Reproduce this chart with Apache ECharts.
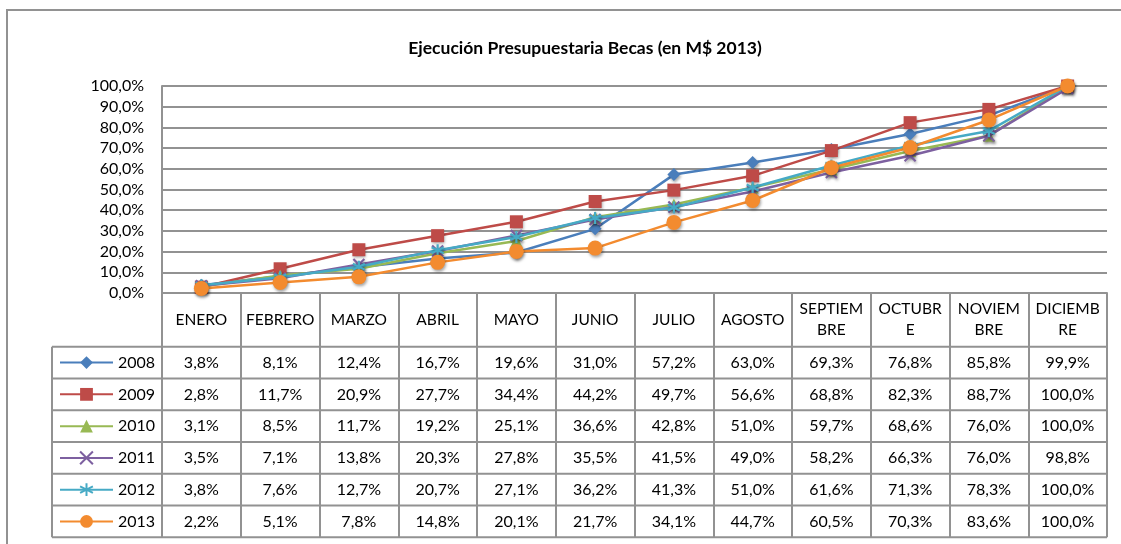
<!DOCTYPE html>
<html>
<head>
<meta charset="utf-8">
<script src="https://cdn.jsdelivr.net/npm/echarts@6/dist/echarts.min.js"></script>
<style>
html,body{margin:0;padding:0;background:#fff;}
#c{width:1121px;height:544px;}
</style>
</head>
<body>
<div id="c"></div>
<script>
const titleText = 'Ejecución Presupuestaria Becas (en M$ 2013)';
const categories = ['ENERO','FEBRERO','MARZO','ABRIL','MAYO','JUNIO','JULIO','AGOSTO','SEPTIEM\nBRE','OCTUBR\nE','NOVIEM\nBRE','DICIEMB\nRE'];
const years = ['2008','2009','2010','2011','2012','2013'];
const s2008 = [3.8, 8.1, 12.4, 16.7, 19.6, 31.0, 57.2, 63.0, 69.3, 76.8, 85.8, 99.9];
const s2009 = [2.8, 11.7, 20.9, 27.7, 34.4, 44.2, 49.7, 56.6, 68.8, 82.3, 88.7, 100.0];
const s2010 = [3.1, 8.5, 11.7, 19.2, 25.1, 36.6, 42.8, 51.0, 59.7, 68.6, 76.0, 100.0];
const s2011 = [3.5, 7.1, 13.8, 20.3, 27.8, 35.5, 41.5, 49.0, 58.2, 66.3, 76.0, 98.8];
const s2012 = [3.8, 7.6, 12.7, 20.7, 27.1, 36.2, 41.3, 51.0, 61.6, 71.3, 78.3, 100.0];
const s2013 = [2.2, 5.1, 7.8, 14.8, 20.1, 21.7, 34.1, 44.7, 60.5, 70.3, 83.6, 100.0];
const yMin = 0, yMax = 100, yStep = 10;

const seriesValues = [s2008, s2009, s2010, s2011, s2012, s2013];
const colors = ['#4a7ebb', '#be4b48', '#98b954', '#7d60a0', '#46aac5', '#f38b2f'];
const symbols = [
  'diamond', 'rect', 'triangle',
  'path://M0,0L10,10M10,0L0,10',
  'path://M5,0L5,10M0,2.5L10,7.5M0,7.5L10,2.5',
  'circle'
];
const symbolSizes = [13, 13, 12, 11, 12, 15];

const FONT = 'Lato, "Noto Sans", sans-serif';
const GRAY = '#929292';
const TXT = '#000';
const fmt = v => v.toFixed(1).replace('.', ',') + '%';

// layout
const plotLeft = 162, plotRight = 1107, plotTop = 86, plotBottom = 293;
const W = 1121, H = 544;
const headerBottom = 346.7;
const rowH = 31.77;
const rowLines = [];
for (let i = 0; i <= years.length; i++) rowLines.push(headerBottom + i * rowH);
const tableBottom = rowLines[rowLines.length - 1];
const legendLeft = 52;

const xAxes = [{
  type: 'category',
  data: categories,
  gridIndex: 0,
  position: 'bottom',
  boundaryGap: true,
  axisLine: {show: true, lineStyle: {color: GRAY, width: 2}},
  axisTick: {show: true, interval: 0, length: tableBottom - plotBottom, lineStyle: {color: GRAY, width: 2}},
  axisLabel: {
    interval: 0, margin: (headerBottom - plotBottom) / 2, verticalAlign: 'middle',
    color: TXT, fontFamily: FONT, fontSize: 15.5, lineHeight: 21, align: 'center'
  },
  splitLine: {show: false}
}];
seriesValues.forEach((vals, r) => {
  xAxes.push({
    type: 'category',
    data: categories,
    gridIndex: 0,
    position: 'bottom',
    boundaryGap: true,
    axisLine: {show: false},
    axisTick: {show: false},
    splitLine: {show: false},
    axisLabel: {
      interval: 0,
      margin: headerBottom + r * rowH + rowH / 2 - plotBottom,
      verticalAlign: 'middle',
      color: TXT, fontFamily: FONT, fontSize: 16,
      formatter: (v, i) => fmt(vals[i])
    }
  });
});

const series = seriesValues.map((vals, i) => {
  const isStroke = symbols[i].startsWith('path://');
  return {
    name: years[i],
    type: 'line',
    xAxisIndex: 0,
    data: vals,
    symbol: symbols[i],
    symbolSize: symbolSizes[i],
    showAllSymbol: true,
    lineStyle: {color: colors[i], width: 2.5},
    itemStyle: {
      color: colors[i],
      borderColor: colors[i],
      borderWidth: isStroke ? 2.2 : 0,
      shadowBlur: 3, shadowColor: 'rgba(0,0,0,0.35)', shadowOffsetX: 1, shadowOffsetY: 2
    },
    emphasis: {disabled: true},
    z: 3 + i
  };
});

const graphics = [
  {type: 'rect', shape: {x: 7, y: 10, width: 1300, height: 700}, style: {fill: 'none', stroke: GRAY, lineWidth: 2}, silent: true},
  {type: 'line', shape: {x1: legendLeft, y1: headerBottom, x2: legendLeft, y2: tableBottom}, style: {stroke: GRAY, lineWidth: 2}, silent: true}
];
rowLines.forEach(y => {
  graphics.push({type: 'line', shape: {x1: legendLeft, y1: y, x2: plotRight, y2: y}, style: {stroke: GRAY, lineWidth: 2}, silent: true});
});

const option = {
  animation: false,
  backgroundColor: '#fff',
  title: {
    text: titleText, left: 580, top: 34, textAlign: 'center',
    textStyle: {fontFamily: FONT, fontSize: 17.5, fontWeight: 'bold', color: TXT}
  },
  legend: {
    orient: 'vertical',
    left: 59, top: headerBottom + rowH / 2 - 8,
    padding: 0,
    itemWidth: 53, itemHeight: 16, itemGap: rowH - 16,
    textStyle: {fontFamily: FONT, fontSize: 16, color: TXT, lineHeight: 16, padding: [0, 0, 0, 0]},
    data: years,
    selectedMode: false
  },
  grid: {left: plotLeft, right: W - plotRight, top: plotTop, bottom: H - plotBottom, containLabel: false, outerBoundsMode: 'none'},
  xAxis: xAxes,
  yAxis: {
    type: 'value', min: yMin, max: yMax, interval: yStep,
    axisLine: {show: true, lineStyle: {color: GRAY, width: 2}},
    axisTick: {show: false},
    splitLine: {show: true, lineStyle: {color: GRAY, width: 2}},
    axisLabel: {margin: 18, color: TXT, fontFamily: FONT, fontSize: 16, formatter: v => fmt(v)}
  },
  series: series,
  graphic: graphics
};

const chart = echarts.init(document.getElementById('c'), null, {renderer: 'canvas'});
chart.setOption(option);
</script>
</body>
</html>
